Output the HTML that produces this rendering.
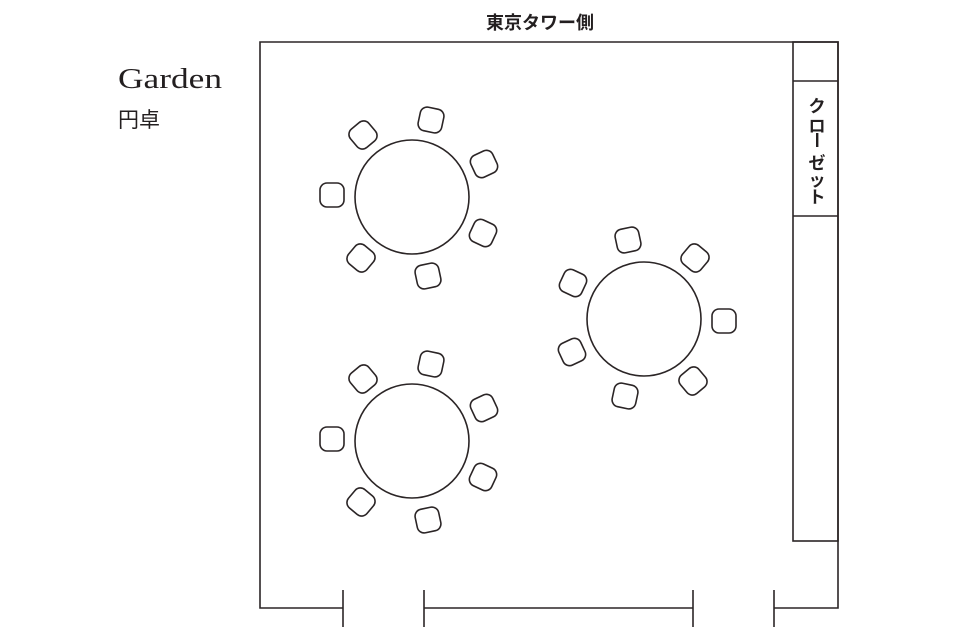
<!DOCTYPE html>
<html><head><meta charset="utf-8"><style>
body{margin:0;background:#fff;}
svg{display:block;}
</style></head><body>
<svg width="960" height="640" viewBox="0 0 960 640" xmlns="http://www.w3.org/2000/svg">
<g fill="none" stroke="#2b2526" stroke-width="1.6">
<polyline points="343,608 260,608 260,42 838,42 838,608 774,608"/>
<line x1="424" y1="608" x2="693" y2="608"/>
<line x1="343" y1="590" x2="343" y2="627"/>
<line x1="424" y1="590" x2="424" y2="627"/>
<line x1="693" y1="590" x2="693" y2="627"/>
<line x1="774" y1="590" x2="774" y2="627"/>
<rect x="793" y="42" width="45" height="499"/>
<line x1="793" y1="81" x2="838" y2="81"/>
<line x1="793" y1="216" x2="838" y2="216"/>
<circle cx="412" cy="197" r="57"/>
<circle cx="412" cy="441" r="57"/>
<circle cx="644" cy="319" r="57"/>
<g transform="translate(412,197)">
<rect x="-61" y="-74" width="24" height="24" rx="7" transform="rotate(-40 -49 -62)"/>
<rect x="7" y="-89" width="24" height="24" rx="7" transform="rotate(12 19 -77)"/>
<rect x="60" y="-45" width="24" height="24" rx="7" transform="rotate(-25 72 -33)"/>
<rect x="-92" y="-14" width="24" height="24" rx="7"/>
<rect x="59" y="24" width="24" height="24" rx="7" transform="rotate(25 71 36)"/>
<rect x="-63" y="49" width="24" height="24" rx="7" transform="rotate(40 -51 61)"/>
<rect x="4" y="67" width="24" height="24" rx="7" transform="rotate(-12 16 79)"/>
</g>
<g transform="translate(412,441)">
<rect x="-61" y="-74" width="24" height="24" rx="7" transform="rotate(-40 -49 -62)"/>
<rect x="7" y="-89" width="24" height="24" rx="7" transform="rotate(12 19 -77)"/>
<rect x="60" y="-45" width="24" height="24" rx="7" transform="rotate(-25 72 -33)"/>
<rect x="-92" y="-14" width="24" height="24" rx="7"/>
<rect x="59" y="24" width="24" height="24" rx="7" transform="rotate(25 71 36)"/>
<rect x="-63" y="49" width="24" height="24" rx="7" transform="rotate(40 -51 61)"/>
<rect x="4" y="67" width="24" height="24" rx="7" transform="rotate(-12 16 79)"/>
</g>
<g transform="translate(644,319) rotate(180)">
<rect x="-61" y="-74" width="24" height="24" rx="7" transform="rotate(-40 -49 -62)"/>
<rect x="7" y="-89" width="24" height="24" rx="7" transform="rotate(12 19 -77)"/>
<rect x="60" y="-45" width="24" height="24" rx="7" transform="rotate(-25 72 -33)"/>
<rect x="-92" y="-14" width="24" height="24" rx="7"/>
<rect x="59" y="24" width="24" height="24" rx="7" transform="rotate(25 71 36)"/>
<rect x="-63" y="49" width="24" height="24" rx="7" transform="rotate(40 -51 61)"/>
<rect x="4" y="67" width="24" height="24" rx="7" transform="rotate(-12 16 79)"/>
</g>
</g>
<g fill="#231f20">
<text x="540" y="29" font-family="Liberation Sans, Noto Sans CJK JP, sans-serif" font-size="18" font-weight="bold" text-anchor="middle">東京タワー側</text>
<text x="118" y="88" font-family="Liberation Serif, serif" font-size="29" textLength="104" lengthAdjust="spacingAndGlyphs">Garden</text>
<text x="118" y="127" font-family="Liberation Sans, Noto Sans CJK JP, sans-serif" font-size="21">円卓</text>
<g font-family="Liberation Sans, Noto Sans CJK JP, sans-serif" font-size="17" font-weight="bold" text-anchor="middle">
<text x="817" y="112">ク</text>
<text x="817" y="132">ロ</text>
<text x="817" y="169">ゼ</text>
<text x="817" y="186">ッ</text>
<text x="817" y="203">ト</text>
</g>
<rect x="816" y="133" width="2.4" height="14"/>
</g>
</svg>
</body></html>
